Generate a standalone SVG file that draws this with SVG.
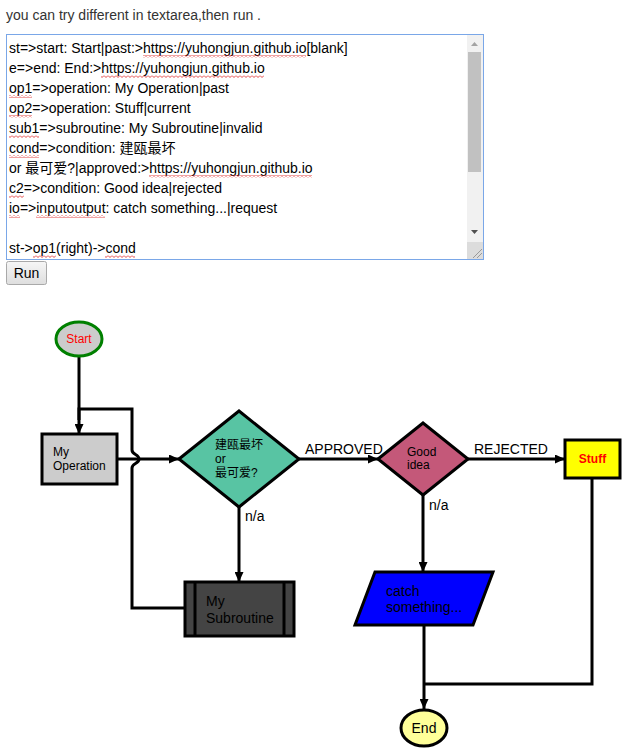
<svg xmlns="http://www.w3.org/2000/svg" width="627" height="753" viewBox="0 0 627 753">
<style>
.t{font-family:"Liberation Sans",Arial,"Noto Sans CJK SC",sans-serif;}
.ta{font-size:14px;fill:#000;}
.n{stroke:#000;stroke-width:3;}
.c{fill:none;stroke:#000;stroke-width:3;}
.a{marker-end:url(#arr);}
.l{font-size:14px;fill:#000;}
.s12{font-size:12px;fill:#000;}
.s14{font-size:14px;fill:#000;}
</style>
<defs>
<marker id="arr" markerUnits="userSpaceOnUse" markerWidth="11" markerHeight="9" refX="10" refY="4.5" orient="auto">
<path d="M0,0 L10,4.5 L0,9 z" fill="#000"/>
</marker>
<pattern id="wave" width="4" height="3" patternUnits="userSpaceOnUse">
<path d="M0,0.5 L2,2.5 L4,0.5" fill="none" stroke="#e03030" stroke-width="0.9"/>
</pattern>
</defs>
<rect width="627" height="753" fill="#fff"/>

<g id="header">
<text class="t" x="6" y="20" font-size="14" fill="#333">you can try different in textarea,then run .</text>
</g>

<g id="textarea">
<rect x="6.5" y="34.5" width="477" height="225" fill="#fff" stroke="#7aa7e8" stroke-width="1"/>
<g class="t ta">
<text x="9" y="53">st=&gt;start: Start|past:&gt;https://yuhongjun.github.io[blank]</text>
<text x="9" y="73">e=&gt;end: End:&gt;https://yuhongjun.github.io</text>
<text x="9" y="93">op1=&gt;operation: My Operation|past</text>
<text x="9" y="113">op2=&gt;operation: Stuff|current</text>
<text x="9" y="133">sub1=&gt;subroutine: My Subroutine|invalid</text>
<text x="9" y="153">cond=&gt;condition: 建瓯最坏</text>
<text x="9" y="173">or 最可爱?|approved:&gt;https://yuhongjun.github.io</text>
<text x="9" y="193">c2=&gt;condition: Good idea|rejected</text>
<text x="9" y="213">io=&gt;inputoutput: catch something...|request</text>
<text x="9" y="253">st-&gt;op1(right)-&gt;cond</text>
</g>
<g fill="url(#wave)">
<rect x="143" y="55" width="163" height="3"/>
<rect x="101" y="75" width="163" height="3"/>
<rect x="9" y="95" width="23" height="3"/>
<rect x="9" y="115" width="23" height="3"/>
<rect x="9" y="135" width="30" height="3"/>
<rect x="9" y="155" width="30" height="3"/>
<rect x="149" y="175" width="163" height="3"/>
<rect x="9" y="195" width="15" height="3"/>
<rect x="9" y="215" width="11" height="3"/>
<rect x="36" y="215" width="69" height="3"/>
<rect x="33" y="255" width="23" height="3"/>
<rect x="105" y="255" width="30" height="3"/>
</g>
<rect x="467" y="35" width="16" height="224" fill="#f1f1f1"/>
<rect x="468" y="52" width="13" height="120" fill="#c1c1c1"/>
<path d="M471,46 L474.5,42 L478,46 z" fill="#a3a3a3"/>
<path d="M471,230 L474.5,234 L478,230 z" fill="#505050"/>
<rect x="467" y="242" width="16" height="17" fill="#dcdcdc"/>
<path d="M473,258 L482,249 M477,258 L482,253" stroke="#888" stroke-width="0.8"/>
</g>

<g id="run-button">
<defs>
<linearGradient id="btn" x1="0" y1="0" x2="0" y2="1">
<stop offset="0" stop-color="#f6f6f6"/>
<stop offset="1" stop-color="#dedede"/>
</linearGradient>
</defs>
<rect x="6.5" y="261.5" width="40" height="23" rx="2" fill="url(#btn)" stroke="#a9a9a9"/>
<text class="t" x="26.5" y="278" font-size="14" fill="#000" text-anchor="middle">Run</text>
</g>

<g id="connectors">
<path class="c a" d="M79,357 V434"/>
<path class="c" d="M185,608 H132 V468 C132,463 139,464 139,459 C139,454 132,455 132,450 V409 H79 V420"/>
<path class="c a" d="M117,459 H179"/>
<path class="c a" d="M299,459 H378"/>
<path class="c a" d="M468,459 H565"/>
<path class="c a" d="M239,507 V582"/>
<path class="c a" d="M423,495 V572"/>
<path class="c a" d="M424,625 V709"/>
<path class="c" d="M592,478 V684 H424"/>
<text class="t l" x="305" y="454">APPROVED</text>
<text class="t l" x="474" y="454">REJECTED</text>
<text class="t l" x="245" y="521">n/a</text>
<text class="t l" x="429" y="510">n/a</text>
</g>

<g id="st">
<ellipse cx="79" cy="339" rx="23" ry="17" fill="#cccccc" stroke="#008000" stroke-width="3"/>
<text class="t" x="79" y="343" font-size="12" fill="#ff0000" text-anchor="middle">Start</text>
</g>

<g id="op1">
<rect class="n" x="42" y="434" width="75" height="50" fill="#cccccc"/>
<text class="t s12" x="53" y="456">My</text>
<text class="t s12" x="53" y="470">Operation</text>
</g>

<g id="cond">
<path class="n" d="M179,459 L239,411 L299,459 L239,507 z" fill="#58c4a3"/>
<text class="t s12" x="215" y="449">建瓯最坏</text>
<text class="t s12" x="215" y="463">or</text>
<text class="t s12" x="215" y="477">最可爱?</text>
</g>

<g id="c2">
<path class="n" d="M378,459 L423,423 L468,459 L423,495 z" fill="#c45879"/>
<text class="t s12" x="407" y="456">Good</text>
<text class="t s12" x="407" y="469">idea</text>
</g>

<g id="op2">
<rect class="n" x="565" y="440" width="55" height="38" fill="#ffff00"/>
<text class="t" x="592.5" y="463" font-size="12" font-weight="bold" fill="#ff0000" text-anchor="middle">Stuff</text>
</g>

<g id="sub1">
<rect class="n" x="185" y="582" width="109" height="54" fill="#444444"/>
<path class="n" d="M195,582 V636 M284,582 V636" fill="none"/>
<text class="t s14" x="206" y="606">My</text>
<text class="t s14" x="206" y="623">Subroutine</text>
</g>

<g id="io">
<path class="n" d="M375,572 L493,572 L473,625 L355,625 z" fill="#0000ff"/>
<text class="t s14" x="386" y="596">catch</text>
<text class="t s14" x="386" y="612">something...</text>
</g>

<g id="e">
<ellipse class="n" cx="424" cy="728" rx="23" ry="18" fill="#ffff99"/>
<text class="t s14" x="424" y="733" text-anchor="middle">End</text>
</g>
</svg>
